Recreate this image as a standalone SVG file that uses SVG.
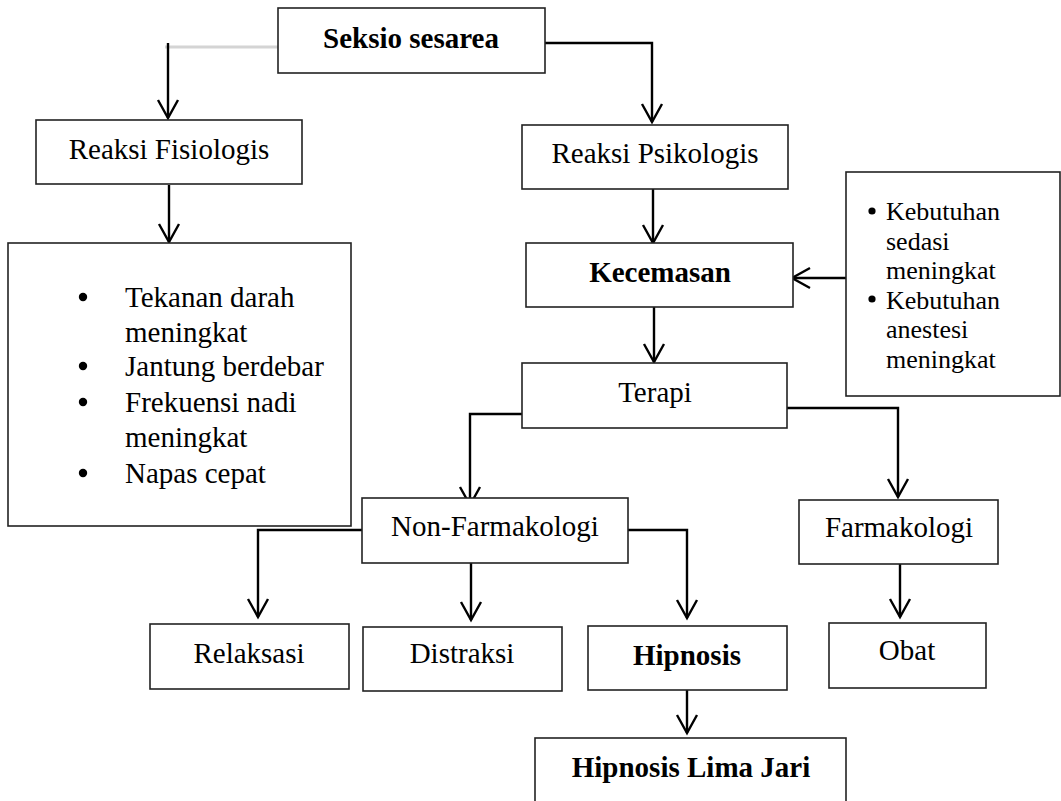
<svg xmlns="http://www.w3.org/2000/svg" width="1061" height="801" viewBox="0 0 1061 801">
<defs>
<style>
.box{fill:#fff;stroke:#222;stroke-width:1.6}
.t{font-family:"Liberation Serif","Times New Roman",serif;font-size:29px;fill:#000;text-anchor:middle}
.b{font-weight:bold}
.lt{font-family:"Liberation Serif","Times New Roman",serif;font-size:29px;fill:#000}
.rt{font-family:"Liberation Serif","Times New Roman",serif;font-size:26px;fill:#000}
.c{fill:none;stroke:#000;stroke-width:2.4;marker-end:url(#ah)}
</style>
<marker id="ah" markerUnits="userSpaceOnUse" markerWidth="26" markerHeight="26" viewBox="-22 -13 26 26" refX="0" refY="0" orient="auto">
<path d="M-18,-10 L0,0 L-18,10" fill="none" stroke="#000" stroke-width="2.4"/>
</marker>
</defs>
<rect width="1061" height="801" fill="#fff"/>
<g id="connectors">
<line x1="165" y1="47" x2="278" y2="47" stroke="#d4d4d4" stroke-width="3"/>
<line x1="278" y1="51" x2="284" y2="51" stroke="#000" stroke-width="2.4"/>
<path class="c" d="M168,43 V118"/>
<path class="c" d="M545,43 H652 V122"/>
<path class="c" d="M169,185 V242"/>
<path class="c" d="M653,189 V243"/>
<path class="c" d="M846,278 H792"/>
<path class="c" d="M654,307 V362"/>
<path class="c" d="M522,414 H470 V505"/>
<path class="c" d="M787,408 H898 V497"/>
<path class="c" d="M362,530 H258 V617"/>
<path class="c" d="M471,563 V620"/>
<path class="c" d="M628,530 H687 V618"/>
<path class="c" d="M900,564 V617"/>
<path class="c" d="M687,690 V733"/>
</g>
<g id="seksio"><rect class="box" x="278" y="8" width="267" height="65"/><text class="t b" x="411" y="48">Seksio sesarea</text></g>
<g id="fisiologis"><rect class="box" x="36" y="120" width="266" height="64"/><text class="t" x="169" y="159">Reaksi Fisiologis</text></g>
<g id="psikologis"><rect class="box" x="522" y="125" width="266" height="64"/><text class="t" x="655" y="163">Reaksi Psikologis</text></g>
<g id="gejala">
<rect class="box" x="8" y="243" width="343" height="283"/>
<g fill="#000"><circle cx="83" cy="297" r="4.2"/><circle cx="83" cy="366" r="4.2"/><circle cx="83" cy="402" r="4.2"/><circle cx="83" cy="473" r="4.2"/></g>
<text class="lt" x="125" y="307">Tekanan darah</text>
<text class="lt" x="125" y="342">meningkat</text>
<text class="lt" x="125" y="376">Jantung berdebar</text>
<text class="lt" x="125" y="412">Frekuensi nadi</text>
<text class="lt" x="125" y="447">meningkat</text>
<text class="lt" x="125" y="483">Napas cepat</text>
</g>
<g id="kecemasan"><rect class="box" x="526" y="243" width="267" height="64"/><text class="t b" x="660" y="282">Kecemasan</text></g>
<g id="kebutuhan">
<rect class="box" x="846" y="172" width="214" height="224"/>
<g fill="#000"><circle cx="872" cy="211" r="3.6"/><circle cx="872" cy="299" r="3.6"/></g>
<text class="rt" x="886" y="220">Kebutuhan</text>
<text class="rt" x="886" y="249.5">sedasi</text>
<text class="rt" x="886" y="279">meningkat</text>
<text class="rt" x="886" y="308.5">Kebutuhan</text>
<text class="rt" x="886" y="338">anestesi</text>
<text class="rt" x="886" y="367.5">meningkat</text>
</g>
<g id="terapi"><rect class="box" x="522" y="363" width="265" height="65"/><text class="t" x="655" y="402">Terapi</text></g>
<g id="nonfarmakologi"><rect class="box" x="362" y="498" width="266" height="65"/><text class="t" x="495" y="536">Non-Farmakologi</text></g>
<g id="farmakologi"><rect class="box" x="799" y="500" width="199" height="64"/><text class="t" x="899" y="537">Farmakologi</text></g>
<g id="relaksasi"><rect class="box" x="150" y="624" width="199" height="65"/><text class="t" x="249" y="663">Relaksasi</text></g>
<g id="distraksi"><rect class="box" x="363" y="627" width="199" height="64"/><text class="t" x="462" y="663">Distraksi</text></g>
<g id="hipnosis"><rect class="box" x="588" y="626" width="199" height="64"/><text class="t b" x="687" y="665">Hipnosis</text></g>
<g id="obat"><rect class="box" x="829" y="623" width="157" height="65"/><text class="t" x="907" y="660">Obat</text></g>
<g id="limajari"><rect class="box" x="535" y="738" width="311" height="90"/><text class="t b" x="691" y="777">Hipnosis Lima Jari</text></g>
</svg>
